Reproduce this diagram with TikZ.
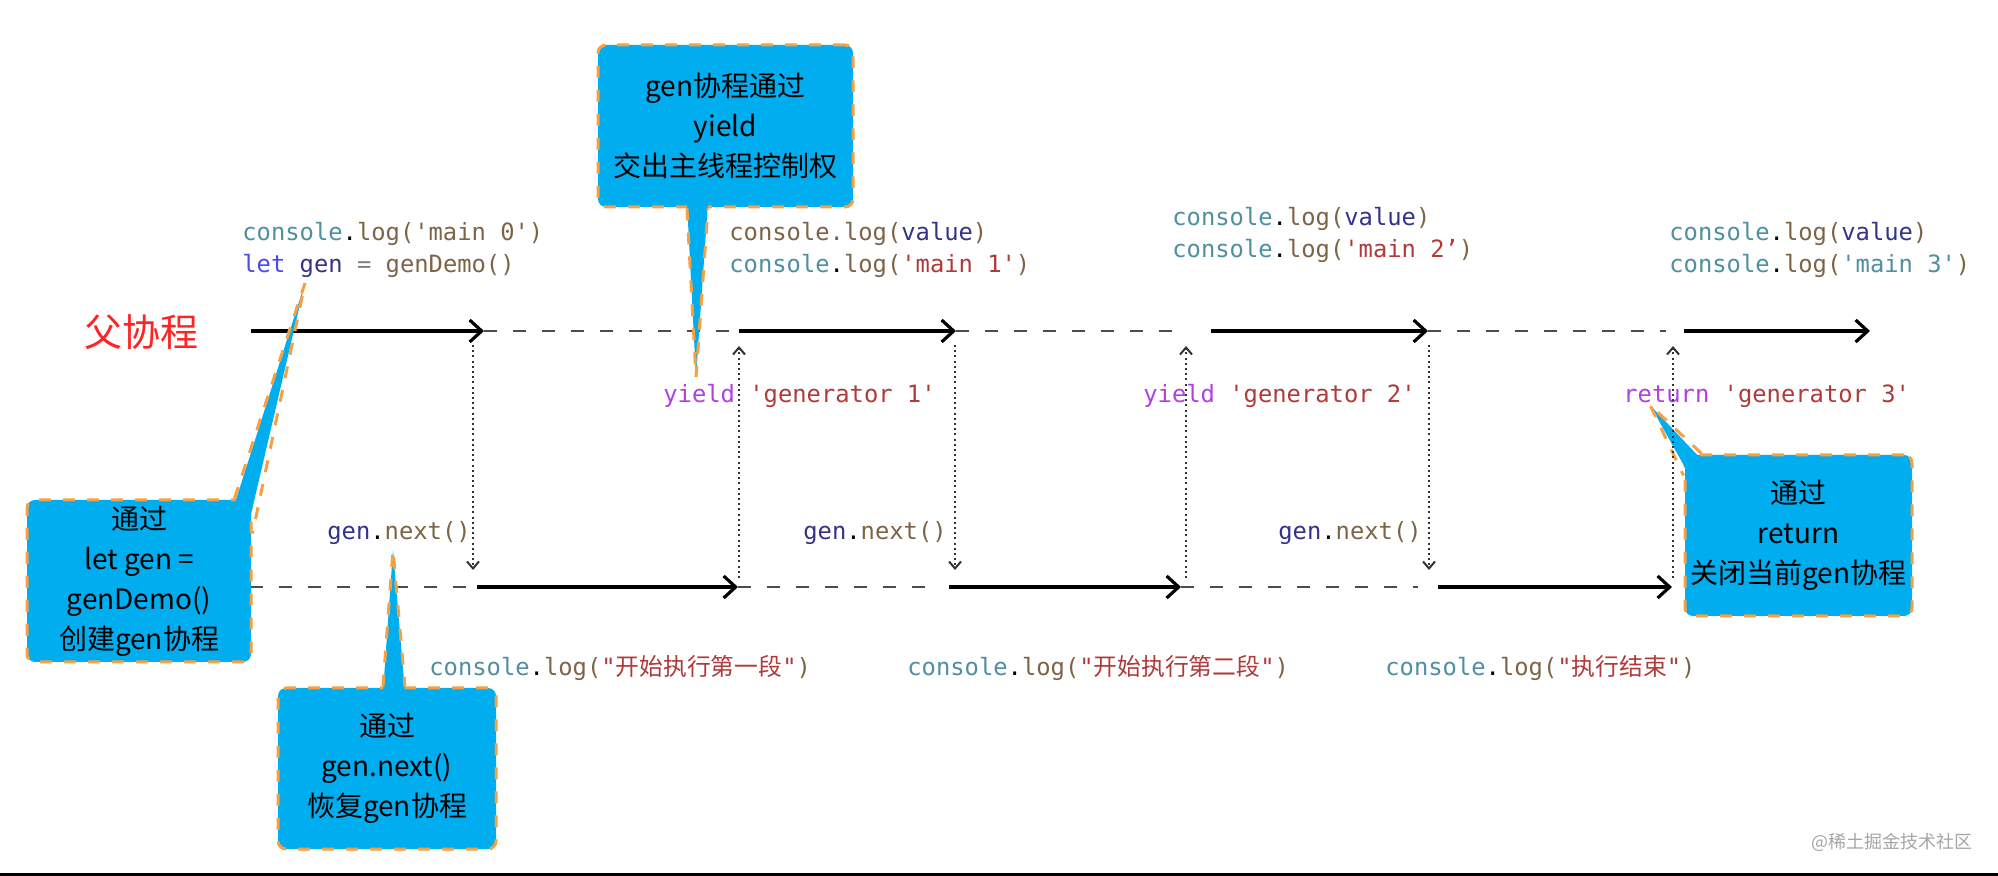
\documentclass[tikz,border=0pt]{standalone}
\usepackage{fontspec}
\setmainfont{Noto Sans CJK SC}
\setmonofont{DejaVu Sans Mono}
\newfontfamily\cjk{Noto Sans CJK SC}
\usetikzlibrary{arrows.meta,positioning}
\definecolor{noteblue}{HTML}{00AEEF}
\definecolor{noteedge}{HTML}{F5A043}
\definecolor{parentred}{HTML}{FF2424}
\definecolor{jsobj}{HTML}{4E8FA0}
\definecolor{jsfn}{HTML}{7D6446}
\definecolor{jsstr}{HTML}{B03A3A}
\definecolor{jsvar}{HTML}{33338A}
\definecolor{jskey}{HTML}{4A4AF0}
\definecolor{jsret}{HTML}{B040E0}
\newcommand{\jo}[1]{\textcolor{jsobj}{#1}}
\newcommand{\jf}[1]{\textcolor{jsfn}{#1}}
\newcommand{\js}[1]{\textcolor{jsstr}{#1}}
\newcommand{\jv}[1]{\textcolor{jsvar}{#1}}
\newcommand{\jk}[1]{\textcolor{jskey}{#1}}
\newcommand{\jr}[1]{\textcolor{jsret}{#1}}
\newcommand{\codefont}{\ttfamily\fontsize{11.9}{16}\selectfont}
\newcommand{\notefont}{\fontsize{14}{20}\selectfont}
\tikzset{
  code/.style={anchor=west, inner sep=0pt, font=\codefont, align=left},
  note/.style={draw=noteedge, fill=noteblue, dash pattern=on 6pt off 6pt, line width=1.5pt, rounded corners=4pt, align=center, font=\notefont, inner sep=0pt},
  tail/.style={fill=noteblue},
  tailedge/.style={draw=noteedge, dash pattern=on 6pt off 6pt, line width=1.5pt},
  run/.style={line width=1.6pt, -{Straight Barb[length=6pt,width=11pt]}},
  idle/.style={line width=1.2pt, draw=black!70, dash pattern=on 6.5pt off 8pt},
  hop/.style={line width=1pt, draw=black!80, dash pattern=on 1pt off 1.6pt, -{Straight Barb[length=3.5pt,width=6pt]}}
}
\begin{document}
\begin{tikzpicture}[x=0.5pt,y=-0.5pt]
\fill[white] (0,0) rectangle (1998,876);
\useasboundingbox (0,0) rectangle (1998,876);
\fill (0,873) rectangle (1998,876);

\node[font=\fontsize{19}{22}\selectfont, text=parentred] (parent) at (141,332) {父协程};

\node[code] (main0) at (242,250) {\jo{console}.\jf{log('main 0')}\\\jk{let} \jv{gen} \textcolor{gray}{=} \jf{genDemo()}};
\node[code] (main1) at (729,250) {\jf{console.log(}\jv{value}\jf{)}\\\jo{console}.\jf{log(}\js{'main 1'}\jf{)}};
\node[code] (main2) at (1172,235) {\jo{console}.\jf{log(}\jv{value}\jf{)}\\\jo{console}.\jf{log(}\js{'main 2’}\jf{)}};
\node[code] (main3) at (1669,250) {\jo{console}.\jf{log(}\jv{value}\jf{)}\\\jo{console}.\jf{log(}\jo{'main 3'}\jf{)}};

\node[code] (yield1) at (663,396) {\jr{yield} \js{'generator 1'}};
\node[code] (yield2) at (1143,396) {\jr{yield} \js{'generator 2'}};
\node[code] (ret3) at (1623,396) {\jr{return} \js{'generator 3'}};

\node[code] (next1) at (327,533) {\jv{gen}.\jf{next()}};
\node[code] (next2) at (803,533) {\jv{gen}.\jf{next()}};
\node[code] (next3) at (1278,533) {\jv{gen}.\jf{next()}};

\node[code] (log1) at (429,668) {\jo{console}.\jf{log(}\js{"{\cjk 开始执行第一段}"}\jf{)}};
\node[code] (log2) at (907,668) {\jo{console}.\jf{log(}\js{"{\cjk 开始执行第二段}"}\jf{)}};
\node[code] (log3) at (1385,668) {\jo{console}.\jf{log(}\js{"{\cjk 执行结束}"}\jf{)}};

\coordinate (t0) at (251,331);
\coordinate (t1) at (484,331);
\coordinate (t2) at (739,331);
\coordinate (t3) at (956,331);
\coordinate (t4) at (1184,331);
\coordinate (t5) at (1211,331);
\coordinate (t6) at (1428,331);
\coordinate (t7) at (1666,331);
\coordinate (t8) at (1684,331);
\coordinate (t9) at (1870,331);
\draw[run] (t0) -- (t1);
\draw[idle] (t1) -- (t2);
\draw[run] (t2) -- (t3);
\draw[idle] (t3) -- (t4);
\draw[run] (t5) -- (t6);
\draw[idle] (t6) -- (t7);
\draw[run] (t8) -- (t9);

\coordinate (b0) at (250,587);
\coordinate (b1) at (477,587);
\coordinate (b2) at (738,587);
\coordinate (b3) at (940,587);
\coordinate (b4) at (949,587);
\coordinate (b5) at (1181,587);
\coordinate (b6) at (1418,587);
\coordinate (b7) at (1438,587);
\coordinate (b8) at (1672,587);
\draw[idle] (b0) -- (b1);
\draw[run] (b1) -- (b2);
\draw[idle] (b2) -- (b3);
\draw[run] (b4) -- (b5);
\draw[idle] (b5) -- (b6);
\draw[run] (b7) -- (b8);

\node[note, minimum width=127.5pt, minimum height=81pt] (yieldnote) at (725.5,126) {gen协程通过\\yield\\交出主线程控制权};
\coordinate (yieldtip) at (696,377);
\fill[tail] ([xshift=-19.25pt,yshift=3pt]yieldnote.south) -- (yieldtip) -- ([xshift=-8.75pt,yshift=3pt]yieldnote.south) -- cycle;
\draw[tailedge] ([xshift=-19.25pt]yieldnote.south) -- (yieldtip) -- ([xshift=-8.75pt]yieldnote.south);

\node[note, minimum width=112pt, minimum height=81pt] (letnote) at (139,581) {通过\\let gen =\\genDemo()\\创建gen协程};
\coordinate (lettip) at (305,283);
\fill[tail] ([xshift=-9pt,yshift=-3pt]letnote.north east) -- (lettip) -- ([xshift=-3pt,yshift=-17.5pt]letnote.north east) -- cycle;
\draw[tailedge] ([xshift=-9pt]letnote.north east) -- (lettip) -- ([yshift=-17.5pt]letnote.north east);

\node[note, minimum width=109pt, minimum height=80.5pt] (nextnote) at (387,768.5) {通过\\gen.next()\\恢复gen协程};
\coordinate (nexttip) at (393,550);
\fill[tail] ([xshift=-2pt,yshift=-3pt]nextnote.north) -- (nexttip) -- ([xshift=9pt,yshift=-3pt]nextnote.north) -- cycle;
\draw[tailedge] ([xshift=-2pt]nextnote.north) -- (nexttip) -- ([xshift=9pt]nextnote.north);

\node[note, minimum width=113.5pt, minimum height=80.5pt] (retnote) at (1798.5,535.5) {通过\\return\\关闭当前gen协程};
\coordinate (rettip) at (1650,405);
\fill[tail] ([xshift=9pt,yshift=-3pt]retnote.north west) -- (rettip) -- ([xshift=3pt,yshift=-11pt]retnote.north west) -- cycle;
\draw[tailedge] ([xshift=9pt]retnote.north west) -- (rettip) -- ([yshift=-11pt]retnote.north west);

\foreach \x/\n in {473/1,955/3,1429/5} {
  \coordinate (hop\n a) at (\x,345);
  \coordinate (hop\n b) at (\x,570);
  \draw[hop] (hop\n a) -- (hop\n b);
}
\foreach \x/\n in {739/2,1186/4,1673/6} {
  \coordinate (hop\n a) at (\x,578);
  \coordinate (hop\n b) at (\x,346);
  \draw[hop] (hop\n a) -- (hop\n b);
}

\node[anchor=east, inner sep=0pt, font=\fontsize{9}{11}\selectfont, text=black!35] (mark) at (1973,842) {@稀土掘金技术社区};
\end{tikzpicture}
\end{document}
